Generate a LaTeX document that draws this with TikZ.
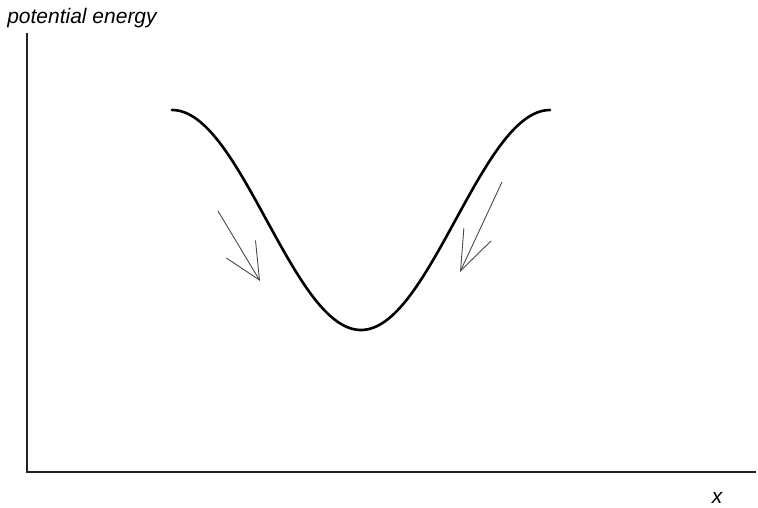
\documentclass[tikz,border=0pt]{standalone}
\usepackage{fontspec}
\setmainfont{Liberation Sans}
\usetikzlibrary{arrows.meta}
\definecolor{axisgray}{HTML}{222222}
\definecolor{hintgray}{HTML}{4A4A4A}

\begin{document}
\begin{tikzpicture}[
    x=1pt, y=-1pt,
    axis/.style={draw=axisgray, line width=1.4pt},
    well/.style={draw=black, line width=2.6pt, line cap=round},
    hint/.style={draw=hintgray, line width=0.9pt},
    lbl/.style={font=\fontsize{21}{25}\selectfont\itshape, inner sep=0pt}
]
    \useasboundingbox (0,0) rectangle (758,507);

    % axes
    \coordinate (ytop) at (27,33);
    \coordinate (origin) at (27,472);
    \coordinate (xend) at (756,472);
    \draw[axis] (ytop) -- (origin) -- (xend);
    \node[lbl] (ylab) at (82,18) {potential energy};
    \node[lbl] (xlab) at (717,498) {x};

    % potential well
    \draw[well] plot[domain=172:550, samples=120, smooth]
        (\x, {220-110*cos((\x-172)/189*180)});

    % arrows down the slopes
    \coordinate (l1) at (218,211);
    \coordinate (l2) at (260,281);
    \coordinate (r1) at (502,182);
    \coordinate (r2) at (460,272);
    \draw[hint, -{Straight Barb[length=36pt, width=34pt]}] (l1) -- (l2);
    \draw[hint, -{Straight Barb[length=40pt, width=30pt]}] (r1) -- (r2);
\end{tikzpicture}
\end{document}
